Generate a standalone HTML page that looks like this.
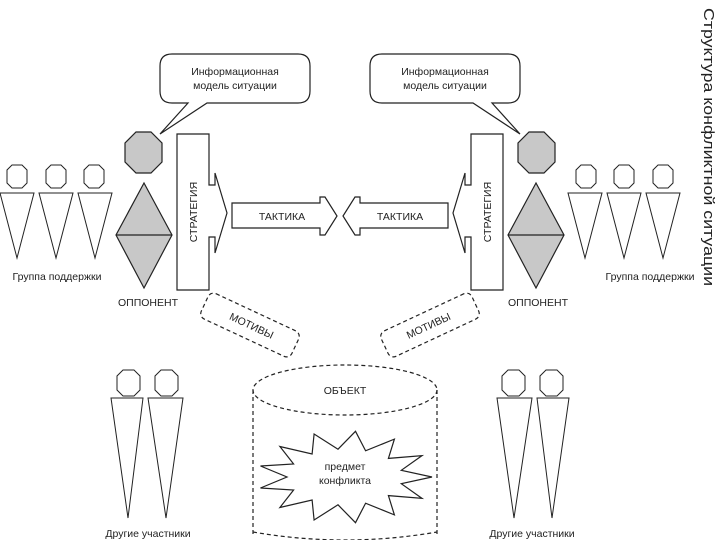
<!DOCTYPE html>
<html><head><meta charset="utf-8"><style>
body{margin:0;background:#fff}
svg{display:block}
text{font-family:"Liberation Sans",sans-serif;fill:#222}
</style></head><body>
<svg width="720" height="540" viewBox="0 0 720 540" xmlns="http://www.w3.org/2000/svg">
<defs>
<g id="side" stroke="#222" stroke-width="1.2">
  <path d="M172,54 H298 Q310,54 310,66 V91 Q310,103 298,103 H207 L160,134 L188,103 H172 Q160,103 160,91 V66 Q160,54 172,54 Z" fill="#fff"/>
  <polygon points="136,132 151,132 162,143 162,162 151,173 136,173 125,162 125,143" fill="#c8c8c8"/>
  <polygon points="144,183 172,235 144,288 116,235" fill="#c8c8c8"/>
  <line x1="116" y1="235" x2="172" y2="235"/>
  <path d="M177,134 H209 V185 H215 V173 L227,213 L215,253 V237 H209 V290 H177 Z" fill="#fff"/>
  <path d="M232,203 H320 V197 L325,197 L337,216 L325,235 L320,235 V228 H232 Z" fill="#fff"/>
  <g fill="#fff" stroke-width="1">
    <polygon points="12,165 22,165 27,170 27,183 22,188 12,188 7,183 7,170"/>
    <polygon points="51,165 61,165 66,170 66,183 61,188 51,188 46,183 46,170"/>
    <polygon points="89,165 99,165 104,170 104,183 99,188 89,188 84,183 84,170"/>
    <polygon points="0,193 34,193 17,258"/>
    <polygon points="39,193 73,193 56,258"/>
    <polygon points="78,193 112,193 95,258"/>
  </g>
  <g fill="#fff" stroke-width="1">
    <polygon points="123,370 134,370 140,376 140,390 134,396 123,396 117,390 117,376"/>
    <polygon points="161,370 172,370 178,376 178,390 172,396 161,396 155,390 155,376"/>
    <polygon points="111,398 143,398 128,518"/>
    <polygon points="148,398 183,398 166,518"/>
  </g>
  <g transform="translate(250,325) rotate(25)">
    <rect x="-50" y="-14" width="100" height="28" rx="6" fill="none" stroke-dasharray="4,3"/>
  </g>
</g>
</defs>
<use href="#side"/>
<use href="#side" transform="translate(680,0) scale(-1,1)"/>

<g fill="none" stroke="#222" stroke-width="1.2" stroke-dasharray="4,3">
  <ellipse cx="345" cy="390" rx="92" ry="25"/>
  <path d="M253,390 V536 M437,390 V536"/>
  <path d="M253,532 Q345,548 437,532"/>
</g>
<polygon id="star" fill="#fff" stroke="#222" stroke-width="1.2" points=""/>

<g font-size="10.5" text-anchor="middle">
<text x="235" y="75">Информационная</text>
<text x="235" y="89">модель ситуации</text>
<text x="445" y="75">Информационная</text>
<text x="445" y="89">модель ситуации</text>
<text x="282" y="220">ТАКТИКА</text>
<text x="400" y="220">ТАКТИКА</text>
<text transform="translate(197,212) rotate(-90)">СТРАТЕГИЯ</text>
<text transform="translate(491,212) rotate(-90)">СТРАТЕГИЯ</text>
<text x="57" y="280">Группа поддержки</text>
<text x="650" y="280">Группа поддержки</text>
<text x="148" y="306">ОППОНЕНТ</text>
<text x="538" y="306">ОППОНЕНТ</text>
<text x="148" y="537">Другие участники</text>
<text x="532" y="537">Другие участники</text>
<text transform="translate(250,329) rotate(25)">МОТИВЫ</text>
<text transform="translate(430,329) rotate(-25)">МОТИВЫ</text>
<text x="345" y="394">ОБЪЕКТ</text>
<text x="345" y="470">предмет</text>
<text x="345" y="484">конфликта</text>
</g>

<text transform="translate(704,8) rotate(90)" font-size="15" textLength="278" lengthAdjust="spacingAndGlyphs" fill="#111">Структура конфликтной ситуации</text>
</svg>
<script>
var p=[],n=13,cx=345,cy=477;
for(var i=0;i<2*n;i++){var a=Math.PI*i/n,o=i%2==0;var rx=o?87:58,ry=o?46:28;p.push((cx+rx*Math.cos(a)).toFixed(1)+','+(cy+ry*Math.sin(a)).toFixed(1));}
document.getElementById('star').setAttribute('points',p.join(' '));
</script>
</body></html>
